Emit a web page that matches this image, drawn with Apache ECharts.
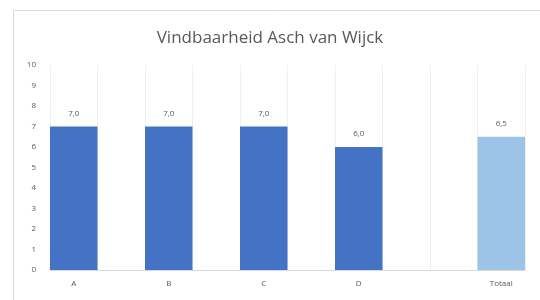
<!DOCTYPE html>
<html>
<head>
<meta charset="utf-8">
<script src="https://cdn.jsdelivr.net/npm/echarts@6/dist/echarts.min.js"></script>
<style>
  html, body { margin: 0; padding: 0; background: #fff; }
  #chart { width: 540px; height: 300px; }
</style>
</head>
<body>
<div id="chart"></div>
<script>
// half-width slots so the gap before "Totaal" matches the original
const categories = ['A', '', 'B', '', 'C', '', 'D', '', '', 'Totaal']
const scores = [7.0, null, 7.0, null, 7.0, null, 6.0, null, null, 6.5]
const yTicks = [0, 1, 2, 3, 4, 5, 6, 7, 8, 9, 10]

const chart = echarts.init(document.getElementById('chart'))

const textColor = '#595959'

chart.setOption({
  animation: false,
  textStyle: { fontFamily: 'Open Sans' },
  graphic: [{
    type: 'rect',
    shape: { x: 13.5, y: 10.5, width: 540, height: 300 },
    style: { fill: 'none', stroke: '#d9d9d9', lineWidth: 1 },
    silent: true
  }],
  title: {
    text: 'Vindbaarheid Asch van Wijck',
    left: 'center',
    top: 25,
    textStyle: { fontSize: 17, fontWeight: 'normal', color: textColor, fontFamily: 'Open Sans' }
  },
  grid: { left: 50, right: 15, top: 65, bottom: 30 },
  xAxis: {
    type: 'category',
    data: categories,
    axisLine: { lineStyle: { color: '#d9d9d9' } },
    axisTick: { show: false },
    axisLabel: { color: textColor, fontSize: 8, interval: 0, margin: 10 },
    splitLine: { show: true, interval: 0, lineStyle: { color: '#f0f0f0' } }
  },
  yAxis: {
    type: 'value',
    min: yTicks[0],
    max: yTicks[yTicks.length - 1],
    interval: 1,
    axisLine: { show: false },
    axisTick: { show: false },
    axisLabel: { color: textColor, fontSize: 8, margin: 14 },
    splitLine: { show: false }
  },
  series: [{
    type: 'bar',
    data: scores,
    barCategoryGap: '0%',
    itemStyle: {
      color: p => categories[p.dataIndex] === 'Totaal' ? '#9dc3e6' : '#4472c4'
    },
    label: {
      show: true,
      position: 'top',
      distance: 9,
      fontSize: 8,
      color: textColor,
      formatter: p => p.value.toFixed(1).replace('.', ',')
    }
  }]
})
</script>
</body>
</html>
